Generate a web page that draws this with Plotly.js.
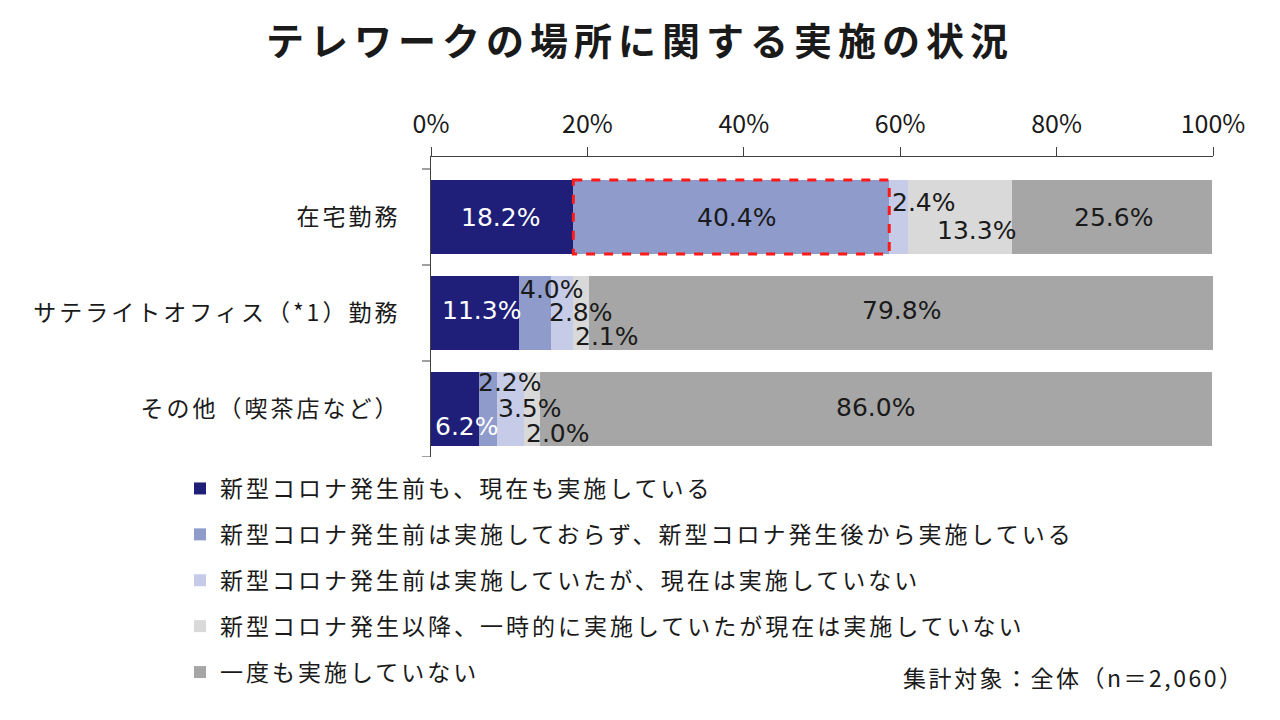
<!DOCTYPE html>
<html>
<head>
<meta charset="utf-8">
<script src="https://cdn.plot.ly/plotly-3.0.1.min.js"></script>
<style>
  html, body { margin: 0; padding: 0; background: #fff; }
  #chart { width: 1280px; height: 720px; }
  .gtitle { letter-spacing: 6px; }
  .ytick text, .legendtext { letter-spacing: 3px; }
  .annotation[data-index="15"] text { letter-spacing: 2.5px; }
</style>
</head>
<body>
<div id="chart"></div>
<script>
// ---- data ----
const categories = ["在宅勤務", "サテライトオフィス（*1）勤務", "その他（喫茶店など）"];
const seriesNames = [
  "新型コロナ発生前も、現在も実施している",
  "新型コロナ発生前は実施しておらず、新型コロナ発生後から実施している",
  "新型コロナ発生前は実施していたが、現在は実施していない",
  "新型コロナ発生以降、一時的に実施していたが現在は実施していない",
  "一度も実施していない"
];
const before_and_now = [18.2, 11.3, 6.2];
const after_only     = [40.4, 4.0, 2.2];
const before_stopped = [2.4, 2.8, 3.5];
const temporary      = [13.3, 2.1, 2.0];
const never          = [25.6, 79.8, 86.0];
const xTickValues = [0, 20, 40, 60, 80, 100];
const noteText = "集計対象：全体（n＝2,060）";
const titleText = "テレワークの場所に関する実施の状況";

// ---- styles ----
const series = [before_and_now, after_only, before_stopped, temporary, never];
const colors = ["#1f1f7a", "#8e9bcb", "#c6cbe7", "#d9d9d9", "#a6a6a6"];
const textColors = ["#ffffff", "#1a1a1a", "#1a1a1a", "#1a1a1a", "#1a1a1a"];
const FONT = '"Noto Sans CJK JP", "Noto Sans", sans-serif';
const NUMFONT = '"DejaVu Sans", Verdana, sans-serif';
// label placement per [series][category]: mode 'c' = centered, 'l' = left-aligned at segment start; dx, dy in px
const labelPlace = [
  [{m:'c',dx:-2,dy:0},  {m:'c',dx:6,dy:-3},   {m:'l',dx:2,dy:17}],
  [{m:'c',dx:5,dy:0},   {m:'l',dx:-1,dy:-24}, {m:'l',dx:-3,dy:-27}],
  [{m:'l',dx:1,dy:-15}, {m:'l',dx:-4,dy:-1},  {m:'l',dx:-1,dy:-1}],
  [{m:'c',dx:16,dy:13}, {m:'l',dx:0,dy:23},   {m:'l',dx:0,dy:24}],
  [{m:'c',dx:1,dy:0},   {m:'c',dx:1,dy:-3},   {m:'c',dx:0,dy:-2}]
];

const traces = series.map((vals, i) => ({
  type: 'bar',
  orientation: 'h',
  name: seriesNames[i],
  x: vals,
  y: [0, 1, 2],
  marker: { color: colors[i], line: { width: 0 } },
  legendgroup: 'g' + i,
  hoverinfo: 'x+name'
}));

// labels as annotations in data coordinates
const annotations = [];
const cum = [0, 0, 0];
series.forEach((vals, i) => {
  vals.forEach((v, j) => {
    const start = cum[j];
    const p = labelPlace[i][j];
    annotations.push({
      xref: 'x', yref: 'y',
      x: p.m === 'c' ? start + v / 2 : start,
      y: j,
      xanchor: p.m === 'c' ? 'center' : 'left',
      yanchor: 'middle',
      xshift: p.dx, yshift: -p.dy,
      text: v.toFixed(1) + '%',
      showarrow: false,
      font: { family: NUMFONT, size: 25, color: textColors[i] }
    });
    cum[j] += v;
  });
});

annotations.push({
  xref: 'paper', yref: 'paper',
  x: (1226 - 431) / 782, y: -(677 - 457) / 300,
  xanchor: 'right', yanchor: 'middle',
  text: noteText, showarrow: false,
  font: { family: FONT, size: 23, color: '#1a1a1a' }
});

// highlight box around the second segment of the first category
const hlStart = before_and_now[0];
const hlEnd = before_and_now[0] + after_only[0];
const shapes = [{
  type: 'rect', xref: 'x', yref: 'y',
  x0: hlStart, x1: hlEnd, y0: -0.385, y1: 0.385,
  line: { color: '#ff1a1a', width: 3, dash: 'dash' },
  fillcolor: 'rgba(0,0,0,0)'
}];

// y-axis boundary ticks at category boundaries
[-0.5, 0.5, 1.5, 2.5].forEach(b => {
  shapes.push({
    type: 'line', xref: 'paper', yref: 'y',
    x0: -9 / 782, x1: 0, y0: b, y1: b,
    line: { color: '#404040', width: 1 }
  });
});

const layout = {
  width: 1280, height: 720,
  paper_bgcolor: '#ffffff', plot_bgcolor: '#ffffff',
  margin: { l: 431, r: 67, t: 157, b: 263, pad: 0, autoexpand: false },
  font: { family: FONT, color: '#1a1a1a' },
  title: {
    text: '<b>' + titleText + '</b>',
    x: 0.5, xref: 'container', xanchor: 'center',
    y: 1 - 42 / 720, yref: 'container', yanchor: 'middle',
    font: { family: FONT, size: 38, color: '#1a1a1a' }
  },
  barmode: 'stack',
  bargap: 0.23,
  xaxis: {
    side: 'top',
    range: [0, 100],
    tickvals: xTickValues,
    ticktext: xTickValues.map(v => v + '%'),
    ticks: 'outside', ticklen: 9, tickcolor: '#404040', tickwidth: 1,
    showline: true, linecolor: '#404040', linewidth: 1,
    showgrid: false, zeroline: false,
    ticklabelstandoff: 4,
    tickfont: { family: FONT, size: 25, color: '#1a1a1a' },
    fixedrange: true
  },
  yaxis: {
    type: 'linear',
    range: [2.5, -0.625],
    tickvals: [0, 1, 2],
    ticktext: categories,
    ticks: '', showline: true, linecolor: '#404040', linewidth: 1,
    showgrid: false, zeroline: false,
    ticklabelstandoff: 25,
    tickfont: { family: FONT, size: 23, color: '#1a1a1a' },
    fixedrange: true
  },
  showlegend: true,
  legend: {
    orientation: 'v',
    xref: 'container', yref: 'container',
    x: 180 / 1280, y: 1 - 467 / 720,
    xanchor: 'left', yanchor: 'top',
    traceorder: 'grouped',
    tracegroupgap: 13,
    font: { family: FONT, size: 23, color: '#1a1a1a' },
    bgcolor: 'rgba(0,0,0,0)',
    itemclick: false, itemdoubleclick: false
  },
  annotations: annotations,
  shapes: shapes
};

Plotly.newPlot('chart', traces, layout, { displayModeBar: false, staticPlot: true });
</script>
</body>
</html>
